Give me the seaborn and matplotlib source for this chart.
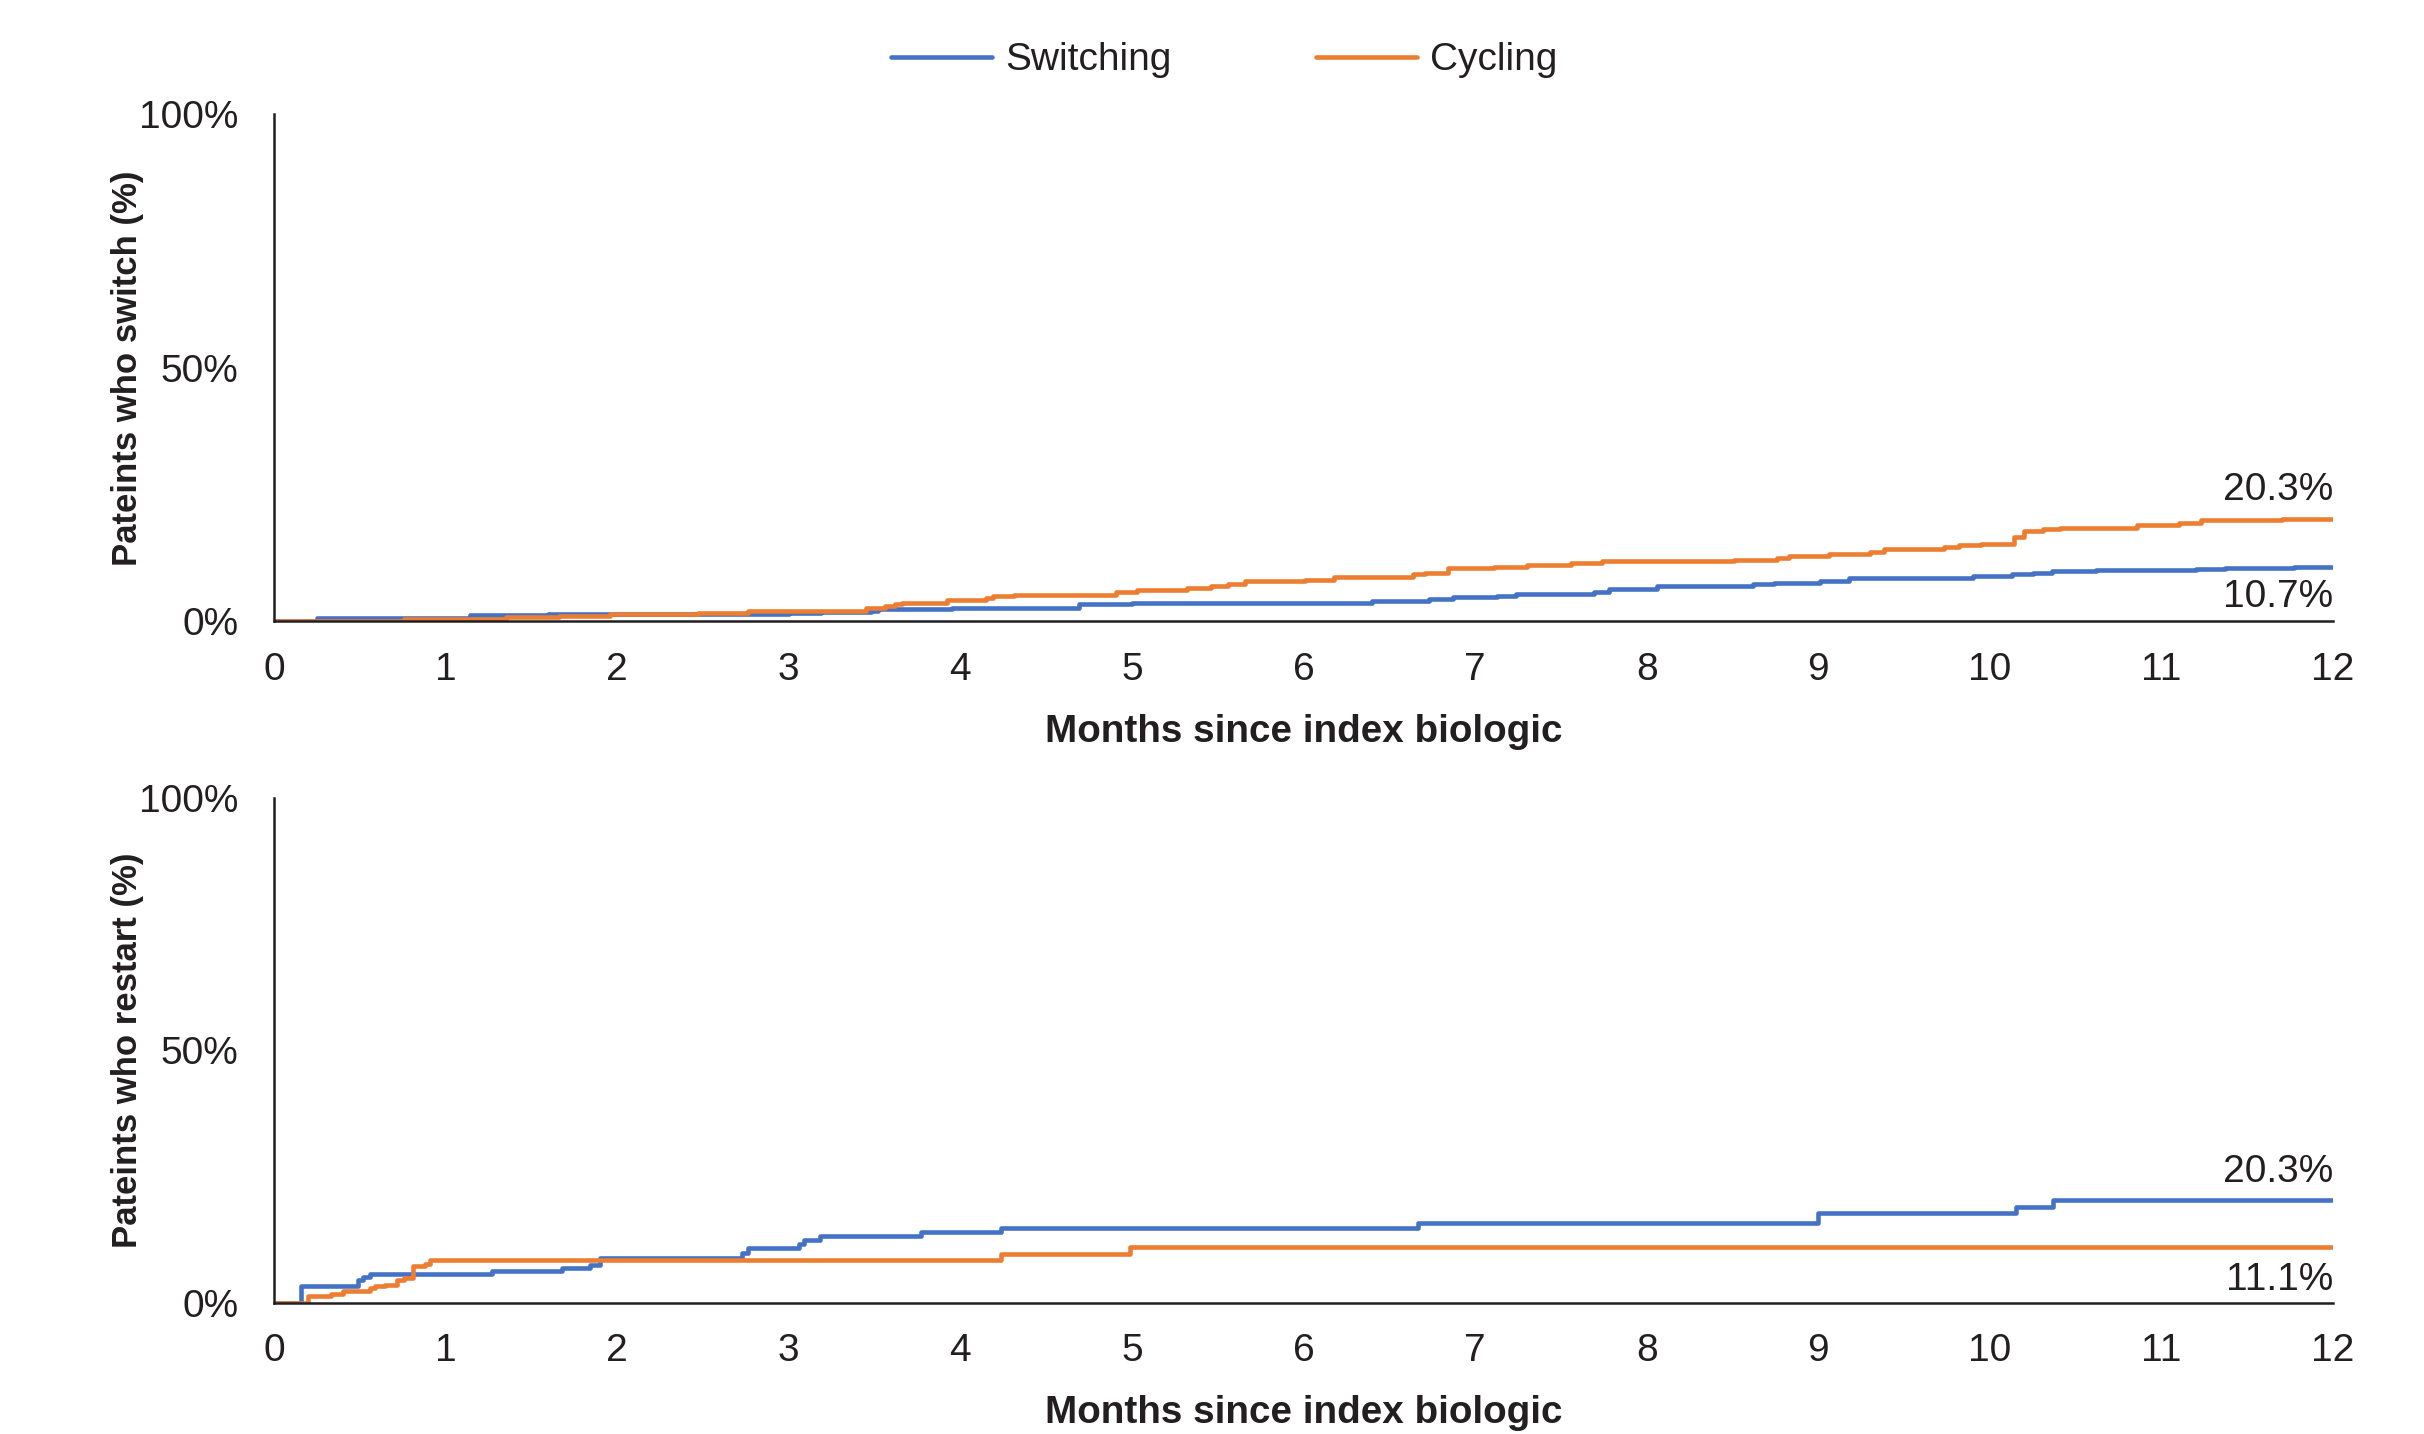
import numpy as np
import pandas as pd
import matplotlib
matplotlib.use('Agg')
import matplotlib.pyplot as plt
import seaborn as sns
from matplotlib.lines import Line2D

# ==================== 数据 ====================
GROUPS = ['Switching', 'Cycling']
COLORS = {'Switching': '#4472C4', 'Cycling': '#ED7D31'}
MONTH_TICKS = list(range(0, 13))
PCT_TICKS = [0, 50, 100]
PCT_LABELS = ['0%', '50%', '100%']

# 上图：换药（switch）累计比例
top_switch_t = [0, 0.25, 1.14, 1.6, 3.0, 3.19, 3.48, 3.52, 3.95, 4.69, 5.0, 6.40, 6.73,
                6.87, 7.13, 7.24, 7.69, 7.78, 8.06, 8.62, 8.74, 9.01, 9.18, 9.90, 10.13,
                10.25, 10.36, 10.62, 11.2, 11.37, 11.77, 12]
top_switch_v = [0, 0.6, 1.2, 1.5, 1.7, 1.9, 2.1, 2.4, 2.7, 3.4, 3.7, 4.1, 4.4,
                4.8, 5.1, 5.5, 5.9, 6.4, 7.0, 7.3, 7.6, 8.0, 8.6, 8.9, 9.3,
                9.6, 9.9, 10.2, 10.4, 10.6, 10.7, 10.7]
top_cycle_t = [0, 0.76, 1.35, 1.66, 1.96, 2.47, 2.76, 3.45, 3.56, 3.62, 3.66, 3.92, 4.15,
               4.19, 4.31, 4.91, 5.03, 5.32, 5.46, 5.56, 5.66, 6.01, 6.18, 6.64, 6.71,
               6.84, 7.11, 7.30, 7.56, 7.74, 8.51, 8.76, 8.83, 9.06, 9.30, 9.38, 9.73,
               9.82, 9.95, 10.14, 10.20, 10.31, 10.41, 10.86, 11.1, 11.23, 11.7, 12]
top_cycle_v = [0, 0.5, 0.85, 1.1, 1.4, 1.7, 2.1, 2.7, 3.1, 3.4, 3.7, 4.3, 4.7,
               5.0, 5.3, 5.9, 6.3, 6.6, 7.0, 7.4, 7.9, 8.2, 8.8, 9.3, 9.6,
               10.5, 10.8, 11.1, 11.5, 11.9, 12.2, 12.6, 13.0, 13.4, 13.7, 14.2, 14.6,
               15.0, 15.3, 16.7, 17.9, 18.2, 18.5, 19.1, 19.5, 20.0, 20.3, 20.3]

# 下图：重启（restart）累计比例
bot_switch_t = [0, 0.16, 0.49, 0.52, 0.56, 1.27, 1.68, 1.84, 1.90, 2.73, 2.76, 3.06, 3.09,
                3.18, 3.77, 4.24, 6.67, 9.0, 10.15, 10.37, 12]
bot_switch_v = [0, 3.3, 4.5, 5.1, 5.8, 6.4, 7.0, 7.6, 8.8, 9.9, 10.8, 11.7, 12.5,
                13.3, 14.1, 14.9, 15.8, 17.8, 18.9, 20.3, 20.3]
bot_cycle_t = [0, 0.2, 0.33, 0.40, 0.56, 0.59, 0.65, 0.72, 0.76, 0.81, 0.88, 0.91, 4.24, 4.99, 12]
bot_cycle_v = [0, 1.3, 1.8, 2.3, 3.0, 3.3, 3.6, 4.5, 5.0, 7.3, 7.7, 8.4, 9.6, 11.1, 11.1]

top_end_labels = ['20.3%', '10.7%']
bot_end_labels = ['20.3%', '11.1%']

TEXT = '#231F20'


def to_long(sw_t, sw_v, cy_t, cy_v):
    """拼成长表，便于 seaborn 按组画"""
    return pd.concat([
        pd.DataFrame({'month': sw_t, 'pct': sw_v, 'group': 'Switching'}),
        pd.DataFrame({'month': cy_t, 'pct': cy_v, 'group': 'Cycling'}),
    ], ignore_index=True)


def style_axis(ax, ylabel, end_labels, end_y):
    ax.set_xlim(0, 12)
    ax.set_ylim(0, 100)
    ax.set_xticks(MONTH_TICKS)
    ax.set_xticklabels([str(m) for m in MONTH_TICKS])
    ax.set_yticks(PCT_TICKS)
    ax.set_yticklabels(PCT_LABELS)
    for s in ['top', 'right']:
        ax.spines[s].set_visible(False)
    for s in ['left', 'bottom']:
        ax.spines[s].set_color(TEXT)
        ax.spines[s].set_linewidth(1.8)
    ax.tick_params(axis='x', length=0, pad=22, labelsize=28, colors=TEXT)
    ax.tick_params(axis='y', length=18.5, width=1.8, pad=7, labelsize=28,
                   colors=TEXT, direction='out')
    ax.set_xlabel('Months since index biologic', fontsize=27.8, fontweight='bold',
                  color=TEXT, va='center')
    ax.xaxis.set_label_coords(0.5, -0.217)
    ax.set_ylabel(ylabel, fontsize=25, fontweight='bold', color=TEXT, va='center')
    ax.yaxis.set_label_coords(-0.071, 0.5)
    for lab, y in zip(end_labels, end_y):
        ax.text(12, y, lab, ha='right', va='center', fontsize=28, color=TEXT)
    ax.grid(False)


sns.set_theme(style='white')
plt.rcParams['font.family'] = ['Liberation Sans', 'DejaVu Sans']

fig = plt.figure(figsize=(24.24, 14.34), dpi=100)
ax1 = fig.add_axes([0.113, 0.5666, 0.8495, 0.3536])
ax2 = fig.add_axes([0.113, 0.0914, 0.8495, 0.3524])

df_top = to_long(top_switch_t, top_switch_v, top_cycle_t, top_cycle_v)
df_bot = to_long(bot_switch_t, bot_switch_v, bot_cycle_t, bot_cycle_v)

for ax, df in [(ax1, df_top), (ax2, df_bot)]:
    sns.lineplot(data=df, x='month', y='pct', hue='group', hue_order=GROUPS,
                 palette=COLORS, estimator=None, drawstyle='steps-post',
                 linewidth=3.3, legend=False, ax=ax)

style_axis(ax1, 'Pateints who switch (%)', top_end_labels, [26.0, 4.8])
style_axis(ax2, 'Pateints who restart (%)', bot_end_labels, [25.9, 4.5])

handles = [Line2D([0], [0], color=COLORS[g], lw=3.3) for g in GROUPS]
fig.legend(handles, GROUPS, loc='center', bbox_to_anchor=(0.505, 0.958), ncol=2,
           frameon=False, fontsize=28, handlelength=2.6, handletextpad=0.35,
           columnspacing=3.7, labelcolor=TEXT)

fig.savefig('out.png', dpi=100)
plt.close(fig)
